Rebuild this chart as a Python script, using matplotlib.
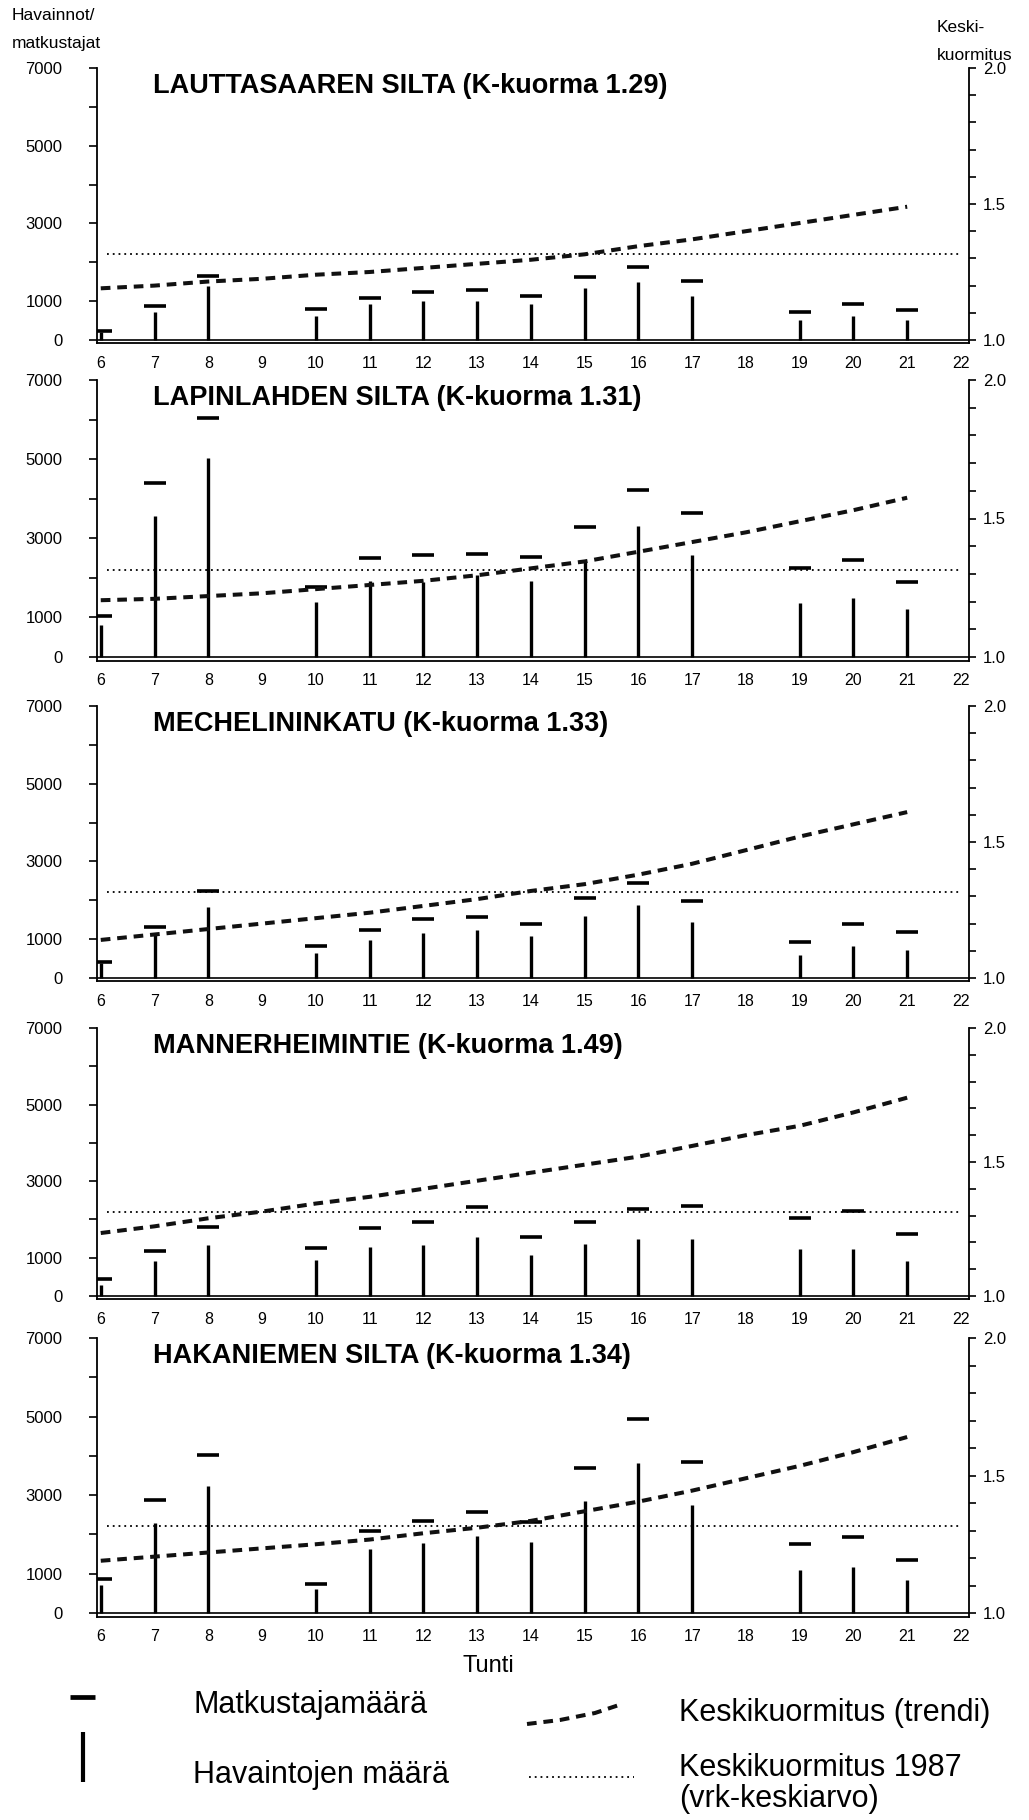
import matplotlib
matplotlib.use('Agg')
import matplotlib.pyplot as plt

plt.rcParams['font.family'] = ['Liberation Sans', 'DejaVu Sans']

# --- data ---
hours = [6, 7, 8, 10, 11, 12, 13, 14, 15, 16, 17, 19, 20, 21]
trend_hours = list(range(6, 22))
x_ticks = list(range(6, 23))

titles = [
    'LAUTTASAAREN SILTA (K-kuorma 1.29)',
    'LAPINLAHDEN SILTA (K-kuorma 1.31)',
    'MECHELININKATU (K-kuorma 1.33)',
    'MANNERHEIMINTIE (K-kuorma 1.49)',
    'HAKANIEMEN SILTA (K-kuorma 1.34)',
]

# matkustajamäärä (horizontal dashes)
matk_lauttasaari = [220, 880, 1640, 800, 1090, 1230, 1280, 1120, 1610, 1870, 1510, 730, 920, 780]
matk_lapinlahti = [1040, 4390, 6030, 1780, 2490, 2590, 2610, 2530, 3280, 4230, 3630, 2250, 2450, 1900]
matk_mechelin = [420, 1310, 2230, 830, 1230, 1530, 1570, 1400, 2050, 2450, 1970, 930, 1390, 1190]
matk_mannerheim = [450, 1180, 1790, 1250, 1780, 1930, 2320, 1530, 1930, 2280, 2350, 2040, 2230, 1610]
matk_hakaniemi = [860, 2880, 4020, 730, 2080, 2350, 2560, 2320, 3700, 4930, 3840, 1760, 1930, 1360]

# havaintojen määrä (vertical bars)
hav_lauttasaari = [200, 710, 1380, 610, 930, 1000, 1010, 920, 1330, 1500, 1130, 510, 610, 520]
hav_lapinlahti = [820, 3560, 5040, 1390, 1930, 1900, 2080, 1930, 2400, 3310, 2580, 1370, 1490, 1220]
hav_mechelin = [380, 1130, 1820, 650, 980, 1160, 1240, 1080, 1600, 1870, 1440, 580, 830, 720]
hav_mannerheim = [290, 910, 1320, 940, 1280, 1340, 1530, 1070, 1370, 1500, 1500, 1230, 1220, 910]
hav_hakaniemi = [700, 2300, 3230, 610, 1640, 1790, 1950, 1810, 2850, 3830, 2760, 1100, 1180, 850]

# keskikuormitus trendi (right axis), hours 6..21
trend_lauttasaari = [1.19, 1.20, 1.215, 1.225, 1.24, 1.25, 1.265, 1.28, 1.295, 1.315, 1.345, 1.37, 1.40, 1.43, 1.46, 1.49]
trend_lapinlahti = [1.205, 1.21, 1.22, 1.23, 1.245, 1.26, 1.275, 1.295, 1.32, 1.345, 1.38, 1.415, 1.45, 1.49, 1.53, 1.575]
trend_mechelin = [1.14, 1.16, 1.18, 1.20, 1.22, 1.24, 1.265, 1.29, 1.32, 1.345, 1.38, 1.42, 1.47, 1.52, 1.565, 1.61]
trend_mannerheim = [1.235, 1.26, 1.29, 1.315, 1.345, 1.37, 1.40, 1.43, 1.46, 1.49, 1.52, 1.56, 1.60, 1.635, 1.685, 1.74]
trend_hakaniemi = [1.19, 1.205, 1.22, 1.235, 1.25, 1.267, 1.29, 1.31, 1.335, 1.37, 1.405, 1.445, 1.49, 1.535, 1.585, 1.64]

avg_1987 = 1.315  # keskikuormitus 1987 (vrk-keskiarvo)

matk_all = [matk_lauttasaari, matk_lapinlahti, matk_mechelin, matk_mannerheim, matk_hakaniemi]
hav_all = [hav_lauttasaari, hav_lapinlahti, hav_mechelin, hav_mannerheim, hav_hakaniemi]
trend_all = [trend_lauttasaari, trend_lapinlahti, trend_mechelin, trend_mannerheim, trend_hakaniemi]

# --- layout (pixels of the 1029x1820 page) ---
W, H = 1029, 1820
panel_tops = [68, 380, 706, 1028, 1338]
panel_zero = [340, 657, 978, 1296, 1613]
left_px, right_px = 97, 969
y_low = -90
dash_style = (0, (2.4, 1.7))
dot_style = (0, (1, 2.2))

fig = plt.figure(figsize=(W / 100, H / 100), dpi=100)

for i in range(5):
    top, zero = panel_tops[i], panel_zero[i]
    bottom = zero + (zero - top) * (-y_low) / 7000.0
    ax = fig.add_axes([left_px / W, 1 - bottom / H, (right_px - left_px) / W, (bottom - top) / H])
    ax2 = ax.twinx()

    ax.set_xlim(5.93, 22.15)
    ax.set_ylim(y_low, 7000)
    ax2.set_ylim(1 + y_low / 7000.0, 2.0)

    ax.spines['top'].set_visible(False)
    ax.spines['right'].set_visible(False)
    for s in ['top', 'left', 'bottom']:
        ax2.spines[s].set_visible(False)
    for sp in [ax.spines['left'], ax.spines['bottom'], ax2.spines['right']]:
        sp.set_linewidth(1.3)

    # left axis
    ax.set_yticks([0, 1000, 3000, 5000, 7000])
    ax.set_yticks([2000, 4000, 6000], minor=True)
    ax.tick_params(axis='y', which='both', direction='out', length=6, width=1.2,
                   pad=19, labelsize=12)
    # right axis
    ax2.set_yticks([1.0, 1.5, 2.0])
    ax2.set_yticklabels(['1.0', '1.5', '2.0'])
    ax2.set_yticks([1.1, 1.2, 1.3, 1.4, 1.6, 1.7, 1.8, 1.9], minor=True)
    ax2.tick_params(axis='y', which='both', direction='out', length=5, width=1.2,
                    pad=5, labelsize=12)
    # x axis
    ax.set_xticks(x_ticks)
    ax.tick_params(axis='x', length=0, pad=9, labelsize=11.5)

    ax.axhline(0, color='black', lw=1.2)
    ax.vlines(hours, 0, hav_all[i], colors='black', lw=2.4)
    ax.plot(hours, matk_all[i], ls='none', marker='_', ms=16.5, mew=2.6, color='black')

    ax2.axhline(avg_1987, xmin=0.012, xmax=0.99, color='black', lw=1.3, ls=dot_style)
    ax2.plot(trend_hours, trend_all[i], color='#111111', lw=2.9, ls=dash_style,
             dash_capstyle='butt')

    h_px = bottom - top
    ax.text((153 - left_px) / (right_px - left_px), 1 - 25 / h_px, titles[i],
            transform=ax.transAxes, fontsize=19.5, fontweight='bold',
            ha='left', va='baseline')

# axis captions
fig.text(12 / W, 1 - 20 / H, 'Havainnot/', fontsize=12.5, va='baseline')
fig.text(12 / W, 1 - 48 / H, 'matkustajat', fontsize=12.5, va='baseline')
fig.text(937 / W, 1 - 32 / H, 'Keski-', fontsize=12.5, va='baseline')
fig.text(937 / W, 1 - 60 / H, 'kuormitus', fontsize=12.5, va='baseline')
fig.text(488 / W, 1 - 1672 / H, 'Tunti', fontsize=17, ha='center', va='baseline')

# legend drawn by hand in page pixels
lax = fig.add_axes([0, 0, 1, 1])
lax.set_xlim(0, W)
lax.set_ylim(H, 0)
lax.axis('off')
lax.plot([70, 95], [1697, 1697], color='black', lw=3.4, solid_capstyle='butt')
lax.plot([83, 83], [1732, 1782], color='black', lw=3.0, solid_capstyle='butt')
lax.plot([527, 560, 595, 622], [1724, 1720, 1713, 1704], color='#111111', lw=2.9,
         ls=dash_style, dash_capstyle='butt')
lax.plot([529, 634], [1777, 1777], color='black', lw=1.3, ls=dot_style)

lax.text(193, 1713, 'Matkustajamäärä', fontsize=22, va='baseline')
lax.text(193, 1783, 'Havaintojen määrä', fontsize=22, va='baseline')
lax.text(679, 1721, 'Keskikuormitus (trendi)', fontsize=22, va='baseline')
lax.text(679, 1776, 'Keskikuormitus 1987', fontsize=22, va='baseline')
lax.text(679, 1807, '(vrk-keskiarvo)', fontsize=22, va='baseline')

fig.savefig('out.png', dpi=100)
